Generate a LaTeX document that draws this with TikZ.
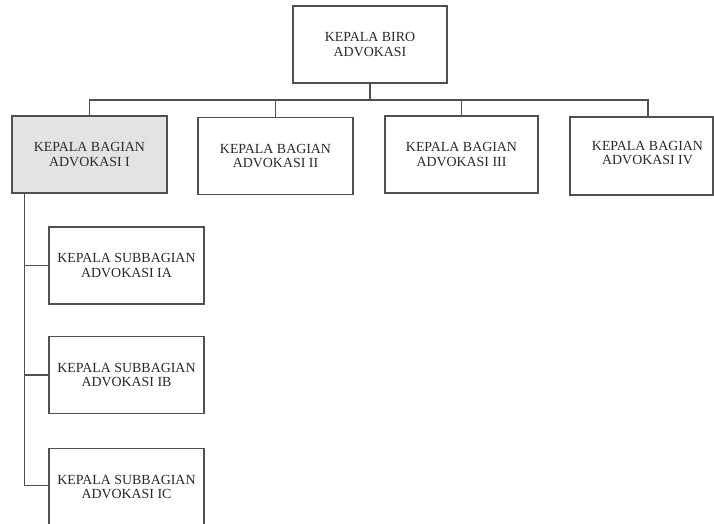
\documentclass[tikz,border=0pt]{standalone}
\usepackage{fontspec}
\setmainfont{Liberation Serif}
\definecolor{linec}{HTML}{505050}
\definecolor{shade}{HTML}{E3E3E3}
\definecolor{txtc}{HTML}{2A2A2A}
\begin{document}
\begin{tikzpicture}[x=1pt,y=1pt,
  box/.style={draw=linec, line width=1.2pt, minimum width=155pt, minimum height=77pt,
    inner sep=0pt, align=center, text=txtc, font=\fontsize{13.9}{14.5}\selectfont},
  txt/.style={inner sep=0pt, align=center, text=txtc, font=\fontsize{13.9}{14.5}\selectfont},
  conn/.style={draw=linec, line width=1.2pt}]
\useasboundingbox[fill=white] (0,0) rectangle (714,523);
% top
\node[box, minimum width=154pt] (top) at (370,478.5) {KEPALA BIRO\\ADVOKASI};
% second level
\node[box, fill=shade] (b1) at (89.5,368.5) {KEPALA BAGIAN\\ADVOKASI I};
\node[box] (b2) at (275.5,367) {KEPALA BAGIAN\\ADVOKASI II};
\node[box, minimum width=153pt] (b3) at (461.5,368.5) {KEPALA BAGIAN\\ADVOKASI III};
\node[box, minimum width=143pt, minimum height=78pt] (b4) at (641.5,367) {};
\node[txt] (b4t) at ([xshift=6pt,yshift=3pt]b4.center) {KEPALA BAGIAN\\ADVOKASI IV};
% third level
\node[box] (s1) at (126.5,257.5) {KEPALA SUBBAGIAN\\ADVOKASI IA};
\node[box] (s2) at (126.5,148) {KEPALA SUBBAGIAN\\ADVOKASI IB};
\node[box] (s3) at (126.5,36) {KEPALA SUBBAGIAN\\ADVOKASI IC};
% bus
\coordinate (bus) at (0,423);
\coordinate (c4) at ([xshift=6.5pt]b4.north);
\draw[conn] (top.south) -- (top.south |- bus);
\draw[conn] (b1.north) -- (b1.north |- bus) -- (c4 |- bus) -- (c4);
\draw[conn] (b2.north |- bus) -- (b2.north);
\draw[conn] (b3.north |- bus) -- (b3.north);
% trunk
\coordinate (tr) at ([xshift=13pt]b1.south west);
\draw[conn] (tr) |- (s1.west);
\draw[conn] (tr) |- (s2.west);
\draw[conn] (tr) |- ([yshift=1.5pt]s3.west);
\end{tikzpicture}
\end{document}
